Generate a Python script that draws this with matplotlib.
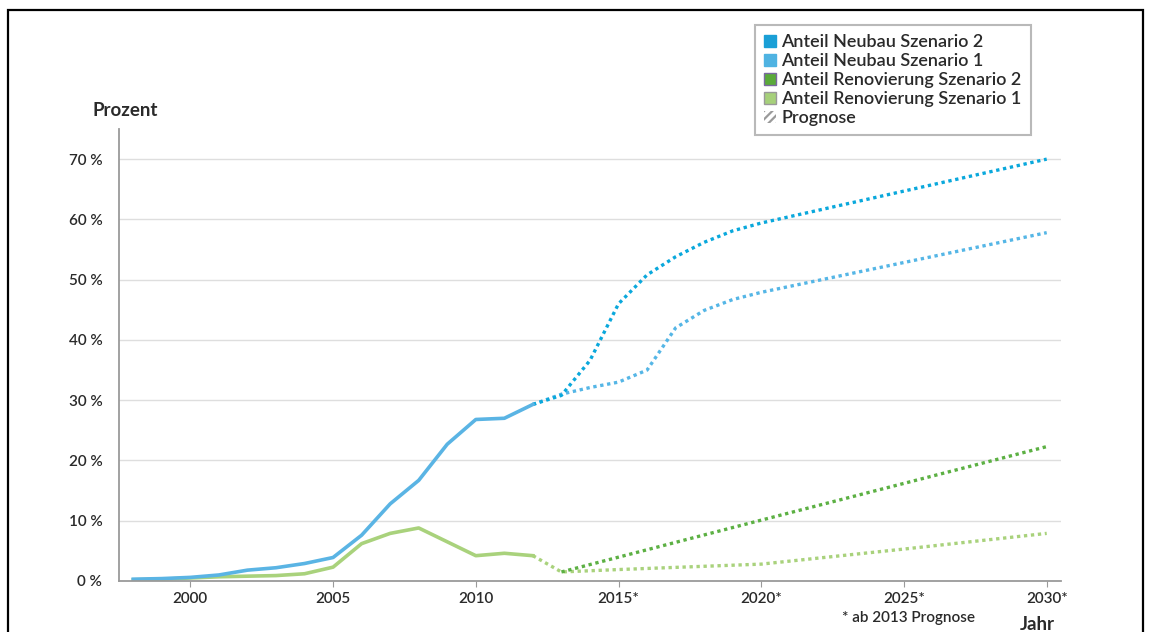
import matplotlib
matplotlib.use("Agg")
import matplotlib.pyplot as plt
from matplotlib.patches import Patch, Rectangle

plt.rcParams['font.family'] = ['Lato', 'DejaVu Sans']
plt.rcParams['hatch.linewidth'] = 1.6

# historical data (both scenarios identical until 2012)
years_hist = [1998, 1999, 2000, 2001, 2002, 2003, 2004, 2005, 2006, 2007, 2008, 2009, 2010, 2011, 2012]
neubau_hist = [0.3, 0.4, 0.6, 1.0, 1.8, 2.2, 2.9, 3.9, 7.6, 12.8, 16.7, 22.7, 26.8, 27.0, 29.3]
reno_hist = [0.2, 0.3, 0.5, 0.7, 0.8, 0.9, 1.2, 2.3, 6.2, 7.9, 8.8, 6.5, 4.2, 4.6, 4.2]

# forecast (ab 2013)
years_neubau = [2012, 2013, 2014, 2015, 2016, 2017, 2018, 2019, 2020, 2030]
neubau_s2 = [29.3, 30.8, 36.6, 46.0, 50.8, 53.8, 56.2, 58.1, 59.4, 70.0]
neubau_s1 = [29.3, 31.0, 32.1, 33.0, 35.0, 42.0, 44.9, 46.7, 47.9, 57.8]
years_reno_s1 = [2012, 2013, 2015, 2020, 2025, 2030]
reno_s1 = [4.2, 1.5, 1.9, 2.8, 5.3, 7.9]
years_reno_s2 = [2013, 2020, 2030]
reno_s2 = [1.5, 10.1, 22.3]

yticks = [0, 10, 20, 30, 40, 50, 60, 70]
xticks = [2000, 2005, 2010, 2015, 2020, 2025, 2030]
xlabels = ["2000", "2005", "2010", "2015*", "2020*", "2025*", "2030*"]

legend_labels = ["Anteil Neubau Szenario 2", "Anteil Neubau Szenario 1",
                 "Anteil Renovierung Szenario 2", "Anteil Renovierung Szenario 1", "Prognose"]

c_hist_blue = "#5ab4e4"
c_n2 = "#0aa8dc"
c_n1 = "#55b6e6"
c_r2 = "#5cb043"
c_r1 = "#a9d27c"
txt = "#2a2a2a"

fig = plt.figure(figsize=(11.53, 6.32), dpi=100)
ax = fig.add_axes([0.1032, 0.0807, 0.8170, 0.7152])

dot = (0, (1, 1.1))
ax.plot(years_reno_s1, reno_s1, color=c_r1, lw=2.4, linestyle=dot, dash_capstyle='butt')
ax.plot(years_reno_s2, reno_s2, color=c_r2, lw=2.4, linestyle=dot, dash_capstyle='butt')
ax.plot(years_neubau, neubau_s1, color=c_n1, lw=2.4, linestyle=dot, dash_capstyle='butt')
ax.plot(years_neubau, neubau_s2, color=c_n2, lw=2.4, linestyle=dot, dash_capstyle='butt')
ax.plot(years_hist, reno_hist, color=c_r1, lw=2.6, solid_joinstyle='round')
ax.plot(years_hist, neubau_hist, color=c_hist_blue, lw=2.6, solid_joinstyle='round')

ax.set_xlim(1997.5, 2030.5)
ax.set_ylim(0, 75)
ax.set_yticks(yticks)
ax.set_yticklabels([str(v) + " %" for v in yticks])
ax.set_xticks(xticks)
ax.set_xticklabels(xlabels)
ax.grid(axis='y', color='#dedede', lw=1)
ax.set_axisbelow(True)
for s in ['top', 'right']:
    ax.spines[s].set_visible(False)
for s in ['left', 'bottom']:
    ax.spines[s].set_color('#9a9a9a')
    ax.spines[s].set_linewidth(1.3)
ax.tick_params(axis='y', length=0, pad=12, labelsize=11, labelcolor=txt)
ax.tick_params(axis='x', length=4, color='#9a9a9a', pad=4, labelsize=11, labelcolor=txt)
for lab in ax.get_xticklabels() + ax.get_yticklabels():
    lab.set_fontweight('semibold')

fig.text(92 / 1153, 1 - 110 / 632, "Prozent", fontsize=13.5, color=txt, fontweight='bold', va='center')
fig.text(1055 / 1153, 1 - 624 / 632, "Jahr", fontsize=13.5, color=txt, fontweight='bold', ha='right', va='center')
fig.text(975 / 1153, 1 - 618 / 632, "* ab 2013 Prognose", fontsize=11, color=txt, fontweight='semibold',
         ha='right', va='center')

handles = [Patch(facecolor="#1a9fd6", edgecolor="#1a9fd6"),
           Patch(facecolor="#4fb3e2", edgecolor="#4fb3e2"),
           Patch(facecolor="#5aaa3a", edgecolor="#7a6aa0"),
           Patch(facecolor="#a6d07a", edgecolor="#999999"),
           Patch(facecolor="white", edgecolor="#9a9a9a", hatch="////", lw=0)]
leg = fig.legend(handles, legend_labels, loc='upper left', bbox_to_anchor=(755 / 1153, 1 - 25 / 632),
                 fontsize=13, frameon=True, fancybox=False, handlelength=0.65, handleheight=0.65,
                 handletextpad=0.3, labelspacing=0.17, borderpad=0.5, borderaxespad=0)
leg.get_frame().set_edgecolor('#a8a8a8')
leg.get_frame().set_linewidth(1.5)
for t in leg.get_texts():
    t.set_color(txt)
    t.set_fontweight('semibold')

# outer frame
fig.patches.append(Rectangle((8 / 1153, -0.05), 1135 / 1153, 1.05 - 10 / 632, transform=fig.transFigure,
                             fill=False, edgecolor='black', lw=1.6))

fig.savefig("out.png", dpi=100)
